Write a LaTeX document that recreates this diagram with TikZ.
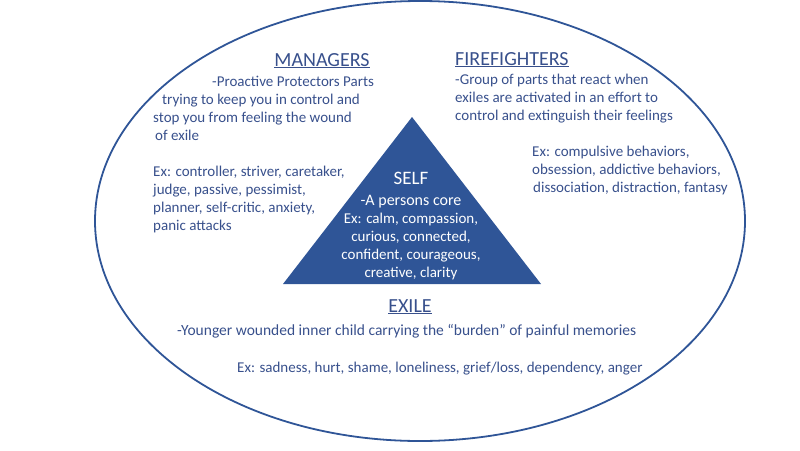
\documentclass[tikz,border=0pt]{standalone}
\usepackage{fontspec}
\setmainfont{Carlito}
\usetikzlibrary{positioning}
\definecolor{ifsblue}{RGB}{47,85,151}
\definecolor{ifstext}{RGB}{56,80,140}

\begin{document}
\begin{tikzpicture}[x=1pt,y=-1pt,
    heading/.style={text=ifstext,font=\fontsize{20}{24}\selectfont,inner sep=0pt},
    body/.style={text=ifstext,font=\fontsize{15}{18}\selectfont,inner sep=0pt,align=left},
    core/.style={text=white,font=\fontsize{15}{18}\selectfont,inner sep=0pt,align=center}]
  \useasboundingbox (0,0) rectangle (800,450);
  % the whole system and the self in the middle
  \draw[ifsblue,line width=1.8pt] (420,221) ellipse [x radius=325,y radius=220];
  \fill[ifsblue] (412,117) -- (283,284) -- (541,284) -- cycle;
  % (base of a many-line node = its last line)
  \node[core,font=\fontsize{19}{22}\selectfont,anchor=base] (self) at (411,184) {SELF};
  \node[core,font=\fontsize{16}{19}\selectfont,anchor=base] (selfcore) at (411,205) {-A persons core};
  \node[core,anchor=base] (selfex) at (411,277) {Ex: calm, compassion,\\ curious, connected,\\ confident, courageous,\\ creative, clarity};
  % managers
  \node[heading,anchor=base] (managers) at (322,66) {\underline{MANAGERS}};
  \node[body,anchor=base west] (mgrtext) at (153,140) {\hspace*{59pt}-Proactive Protectors Parts\\
    \hspace*{9pt}trying to keep you in control and\\
    stop you from feeling the wound\\
    \hspace*{2pt}of exile};
  \node[body,anchor=base west] (mgrex) at (153,230) {Ex: controller, striver, caretaker,\\
    judge, passive, pessimist,\\
    planner, self-critic, anxiety,\\
    panic attacks};
  % firefighters
  \node[heading,anchor=base west] (firefighters) at (455,65) {\underline{FIREFIGHTERS}};
  \node[body,anchor=base west] (fftext) at (455,120) {-Group of parts that react when\\
    exiles are activated in an effort to\\
    control and extinguish their feelings};
  \node[body,anchor=base west] (ffex) at (532,192) {Ex: compulsive behaviors,\\
    obsession, addictive behaviors,\\
    \hspace*{1pt}dissociation, distraction, fantasy};
  % exile
  \node[heading,anchor=base] (exile) at (410,312) {\underline{EXILE}};
  \node[body,font=\fontsize{15.5}{18}\selectfont,anchor=base west] (exiletext) at (177,335) {-Younger wounded inner child carrying the “burden” of painful memories};
  \node[body,anchor=base west] (exileex) at (237,372) {Ex: sadness, hurt, shame, loneliness, grief/loss, dependency, anger};
\end{tikzpicture}
\end{document}
